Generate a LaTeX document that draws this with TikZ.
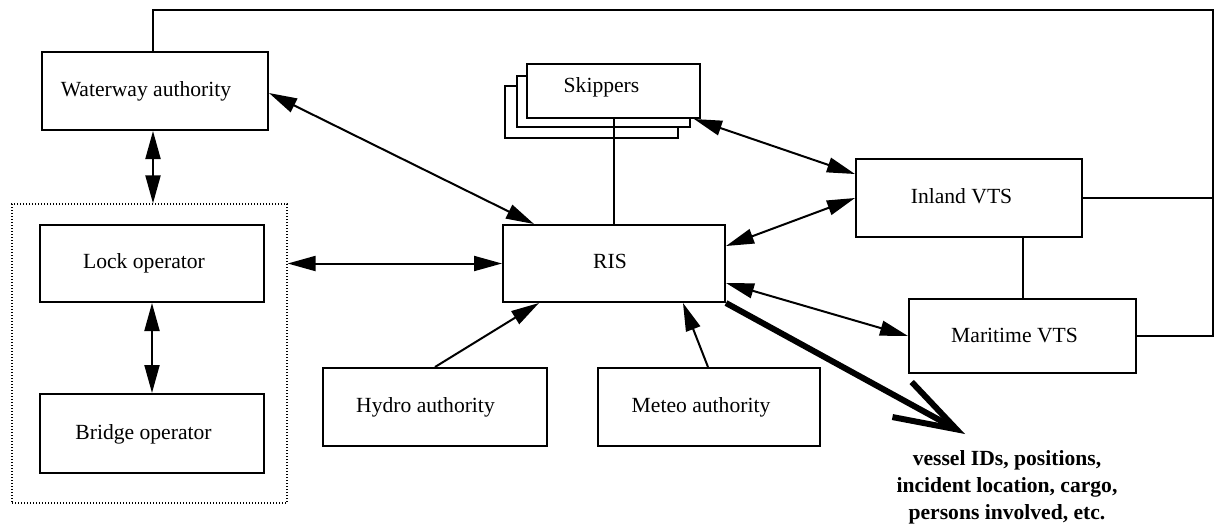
\documentclass[tikz,border=0pt]{standalone}
\usepackage{fontspec}
\setmainfont{Liberation Serif}
\usetikzlibrary{arrows.meta,fit,calc}
\begin{document}
\begin{tikzpicture}[x=0.5pt,y=-0.5pt,
  font=\fontsize{10.8}{13.5}\selectfont,
  box/.style={draw,line width=1pt,inner sep=0pt,fill=white},
  lbl/.style={anchor=base,inner sep=0pt},
  conn/.style={line width=1pt},
  >={Triangle[length=14pt,width=7.5pt]}]
\useasboundingbox (0,0) rectangle (1215,527);
% boxes
\node[box,fit={(42,52)(268,130)}] (wa) {};
\node[draw,line width=0.6pt,dash pattern=on 0.6pt off 0.9pt,inner sep=0pt,fit={(12,204)(287,503)}] (grp) {};
\node[box,fit={(40,225)(264,302)}] (lock) {};
\node[box,fit={(40,394)(264,473)}] (bridge) {};
\node[box,fit={(503,225)(725,302)}] (ris) {};
\node[box,fit={(323,368)(547,446)}] (hydro) {};
\node[box,fit={(598,368)(820,446)}] (meteo) {};
\node[box,fit={(856,159)(1082,237)}] (iv) {};
\node[box,fit={(909,299)(1136,373)}] (mv) {};
\node[box,fit={(505,86)(678,138)}] (sk3) {};
\node[box,fit={(517,76)(690,127)}] (sk2) {};
\node[box,fit={(527,64)(700,118)}] (sk) {};
% labels
\node[lbl] (twa) at (146,96) {Waterway authority};
\node[lbl] (tlock) at (144,268) {Lock operator};
\node[lbl] (tbridge) at (143.5,439) {Bridge operator};
\node[lbl] (tris) at (610,268) {RIS};
\node[lbl] (thydro) at (425.5,412) {Hydro authority};
\node[lbl] (tmeteo) at (701,412) {Meteo authority};
\node[lbl] (tsk) at (601.5,92) {Skippers};
\node[lbl] (tiv) at (961.5,203) {Inland VTS};
\node[lbl] (tmv) at (1014.5,342) {Maritime VTS};
\node[anchor=north,inner sep=0pt,align=center,font=\fontsize{10.8}{13.5}\selectfont\bfseries] (info) at (1007,450)
  {vessel IDs, positions,\\incident location, cargo,\\persons involved, etc.};
% plain lines
\coordinate (c1) at (153,10);
\coordinate (c2) at (1213,10);
\coordinate (c3) at (1213,336);
\draw[conn] (wa.north -| c1) -- (c1) -- (c2) -- (c3) -- (mv.east |- c3);
\draw[conn] (iv.east) -- (iv.east -| c2);
\draw[conn] (mv.north) -- (mv.north |- iv.south);
\draw[conn] (sk.south) -- (sk.south |- ris.north);
% arrows
\draw[conn,<->] (wa.south -| c1) -- (grp.north -| c1);
\draw[conn,<->] (lock.south) -- (bridge.north);
\draw[conn,<->] (grp.east |- ris.west) -- (ris.west);
\draw[conn,<->] ($(wa.east)+(0,2)$) -- ($(ris.north west)+(32,0)$);
\draw[conn,<->] ($(sk.south east)+(-7,0)$) -- ($(iv.north west)+(0,16)$);
\draw[conn,<->] ($(ris.north east)+(0,22)$) -- (iv.west);
\draw[conn,<->] ($(ris.south east)+(0,-20)$) -- (mv.west);
\draw[conn,->] (hydro.north) -- ($(ris.south west)+(37,0)$);
\draw[conn,->] ($(meteo.north)+(-1,0)$) -- ($(ris.south east)+(-43,0)$);
% thick arrow
\coordinate (tip) at (965,434);
\draw[line width=3pt,-{Straight Barb[length=31pt,width=20pt,line cap=butt]}] (ris.south east) -- (tip);
\end{tikzpicture}
\end{document}
